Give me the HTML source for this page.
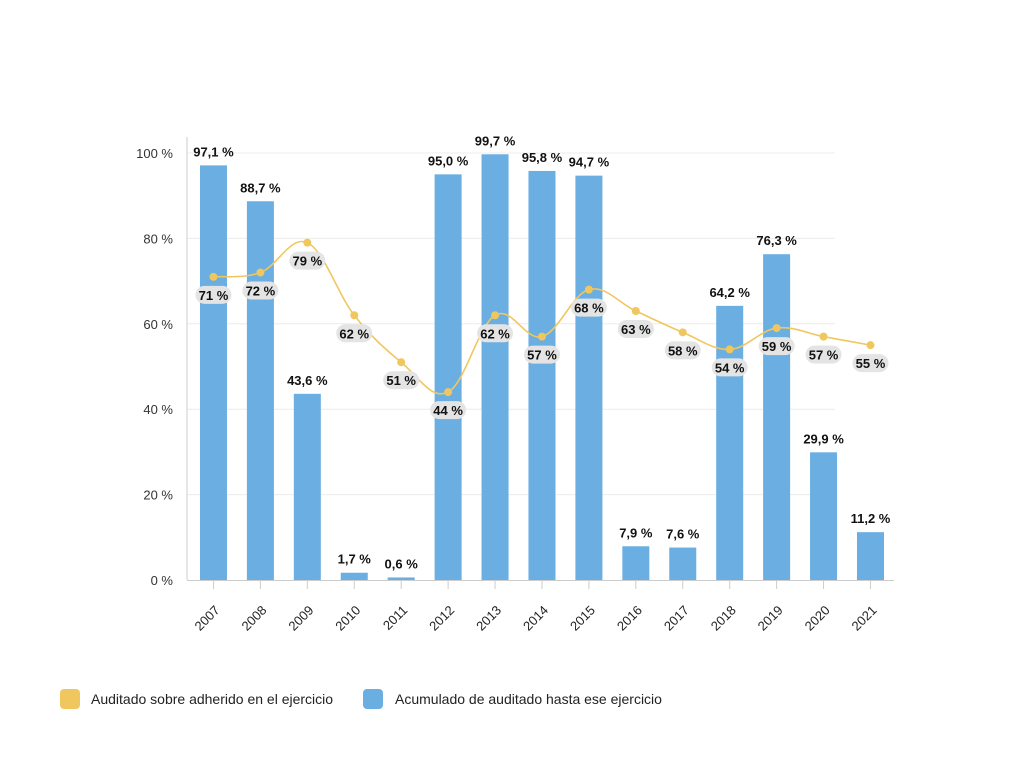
<!DOCTYPE html>
<html><head><meta charset="utf-8"><style>
html,body{margin:0;padding:0;background:#fff;width:1024px;height:768px;overflow:hidden}
svg text{font-family:"Liberation Sans",sans-serif}
</style></head><body>
<svg id="s" width="1024" height="768" xmlns="http://www.w3.org/2000/svg"></svg>
<script>
const s=document.getElementById('s');
const NS='http://www.w3.org/2000/svg';
function el(t,a,txt){const e=document.createElementNS(NS,t);for(const k in a)e.setAttribute(k,a[k]);if(txt!=null)e.textContent=txt;s.appendChild(e);return e;}
const y0=580,k=4.27,x0=190,cw=46.93;
const yr=[2007,2008,2009,2010,2011,2012,2013,2014,2015,2016,2017,2018,2019,2020,2021];
const bars=[97.1,88.7,43.6,1.7,0.6,95.0,99.7,95.8,94.7,7.9,7.6,64.2,76.3,29.9,11.2];
const line=[71,72,79,62,51,44,62,57,68,63,58,54,59,57,55];
const Y=v=>y0-v*k, X=i=>x0+cw*(i+0.5);
for(let v=20;v<=100;v+=20)el('line',{x1:187,x2:835,y1:Y(v),y2:Y(v),stroke:'#ececec','stroke-width':1});
for(let v=0;v<=100;v+=20)el('text',{x:173,y:Y(v)+5,'text-anchor':'end','font-size':13,fill:'#333'},v+' %');
el('line',{x1:187,x2:187,y1:137,y2:580,stroke:'#ccc'});
el('line',{x1:187,x2:894,y1:580.5,y2:580.5,stroke:'#ccc'});
bars.forEach((b,i)=>{const x=X(i);
el('rect',{x:x-13.5,y:Y(b),width:27,height:b*k,fill:'#6aaee2'});
el('line',{x1:x,x2:x,y1:581,y2:589,stroke:'#ccc'});
el('text',{x:x,y:Y(b)-9,'text-anchor':'middle','font-size':13,'font-weight':'bold',fill:'#111'},b.toFixed(1).replace('.',',')+' %');
el('text',{x:0,y:0,'text-anchor':'end','font-size':13,fill:'#222',transform:`translate(${x+7},${611}) rotate(-45)`},yr[i]);
});
const p=line.map((v,i)=>[X(i),Y(v)]);
let d=`M${p[0][0]},${p[0][1]}`;
for(let i=0;i<p.length-1;i++){const a=p[i-1]||p[i],b=p[i],c=p[i+1],e=p[i+2]||c;const t=0.18;
d+=` C${b[0]+(c[0]-a[0])*t},${b[1]+(c[1]-a[1])*t} ${c[0]-(e[0]-b[0])*t},${c[1]-(e[1]-b[1])*t} ${c[0]},${c[1]}`;}
el('path',{d:d,fill:'none',stroke:'#f0c75e','stroke-width':1.6});
p.forEach((q,i)=>{el('circle',{cx:q[0],cy:q[1],r:4,fill:'#f0c75e'});
el('rect',{x:q[0]-18,y:q[1]+9,width:36,height:18,rx:9,fill:'#e4e4e4'});
el('text',{x:q[0],y:q[1]+23,'text-anchor':'middle','font-size':13,'font-weight':'bold',fill:'#111'},line[i]+' %');});
el('rect',{x:60,y:689,width:20,height:20,rx:4,fill:'#f0c75e'});
el('text',{x:91,y:704,'font-size':14,fill:'#222'},'Auditado sobre adherido en el ejercicio');
el('rect',{x:363,y:689,width:20,height:20,rx:4,fill:'#6aaee2'});
el('text',{x:395,y:704,'font-size':14,fill:'#222'},'Acumulado de auditado hasta ese ejercicio');
</script>
</body></html>
